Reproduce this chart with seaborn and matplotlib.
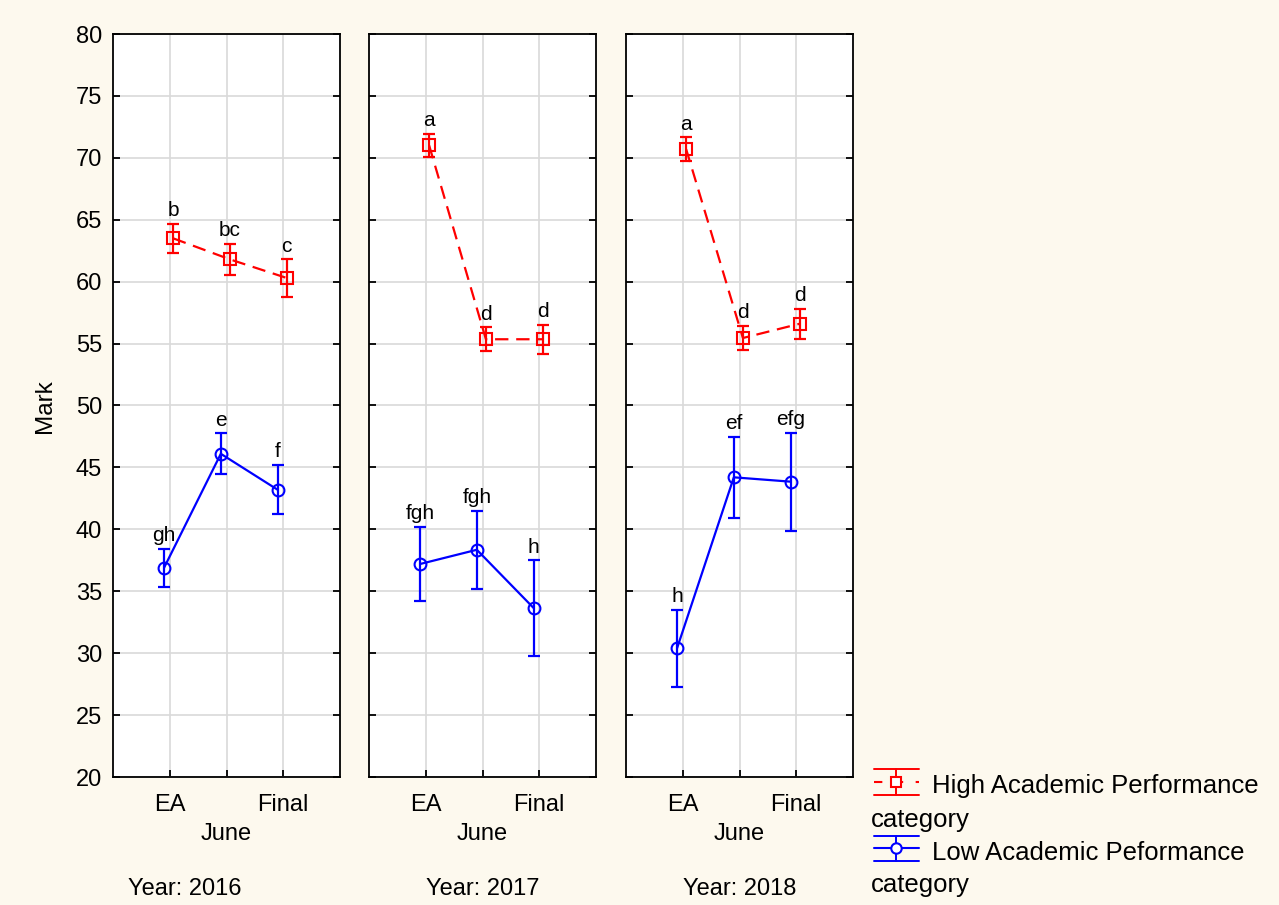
import matplotlib
matplotlib.use("Agg")
import matplotlib.pyplot as plt
import seaborn as sns
import pandas as pd
from matplotlib.lines import Line2D

YEARS = ["2016", "2017", "2018"]
STAGES = ["EA", "June", "Final"]

# means, half error bars and significance letters, one row per year
HIGH_MEAN = [[63.5, 61.8, 60.3], [71.0, 55.35, 55.35], [70.7, 55.45, 56.6]]
HIGH_ERR = [[1.15, 1.25, 1.5], [0.93, 0.95, 1.17], [0.95, 1.0, 1.2]]
HIGH_LETTERS = [["b", "bc", "c"], ["a", "d", "d"], ["a", "d", "d"]]

LOW_MEAN = [[36.9, 46.1, 43.2], [37.2, 38.35, 33.65], [30.4, 44.2, 43.85]]
LOW_ERR = [[1.55, 1.65, 2.0], [3.0, 3.15, 3.85], [3.1, 3.25, 3.95]]
LOW_LETTERS = [["gh", "e", "f"], ["fgh", "fgh", "h"], ["h", "ef", "efg"]]

HIGH_LABEL = "High Academic Performance"
LOW_LABEL = "Low Academic Peformance"

BG = "#FDF9EE"
W, H = 1279, 905

sns.set_theme(style="white")
plt.rcParams["font.family"] = ["Liberation Sans", "DejaVu Sans"]
plt.rcParams.update({"text.color": "black", "axes.labelcolor": "black",
                     "xtick.color": "black", "ytick.color": "black"})

rows = []
for i, yr in enumerate(YEARS):
    for j in range(len(STAGES)):
        rows.append(dict(year=yr, stage=j, group="High", mark=HIGH_MEAN[i][j],
                         err=HIGH_ERR[i][j], letter=HIGH_LETTERS[i][j]))
        rows.append(dict(year=yr, stage=j, group="Low", mark=LOW_MEAN[i][j],
                         err=LOW_ERR[i][j], letter=LOW_LETTERS[i][j]))
df = pd.DataFrame(rows)

STYLE = {
    "High": dict(color="red", marker="s", ms=8, offset=0.06, dashes=(6, 3.5)),
    "Low": dict(color="blue", marker="o", ms=8.5, offset=-0.10, dashes=None),
}

fig = plt.figure(figsize=(W / 100, H / 100), dpi=100, facecolor=BG)
lefts = [113, 369, 626]
year_x = [185, 483, 740]
for i, yr in enumerate(YEARS):
    ax = fig.add_axes([lefts[i] / W, 1 - 777 / H, 227 / W, 743 / H])
    ax.set_facecolor("white")
    sub = df[df.year == yr]
    for g, st in STYLE.items():
        d = sub[sub.group == g].copy()
        d["x"] = d.stage + st["offset"]
        ax.errorbar(d.x, d.mark, yerr=d.err, fmt="none", ecolor=st["color"],
                    elinewidth=1.6, capsize=4, capthick=1.6, zorder=3)
        sns.lineplot(data=d, x="x", y="mark", ax=ax, color=st["color"],
                     marker=st["marker"], markersize=st["ms"],
                     markerfacecolor="none", markeredgecolor=st["color"],
                     markeredgewidth=1.5, linewidth=1.6, zorder=4)
        if st["dashes"]:
            ax.lines[-1].set_dashes(st["dashes"])
        for _, r in d.iterrows():
            ax.annotate(r.letter, (r.x, r.mark + r.err), xytext=(0, 5.5),
                        textcoords="offset points", ha="center", va="baseline",
                        fontsize=15)

    ax.set_xlim(-1, 3)
    ax.set_ylim(20, 80)
    ax.set_yticks(range(20, 81, 5))
    ax.set_xticks([0, 1, 2])
    ax.set_xticklabels(["EA", "", "Final"], fontsize=17)
    ax.tick_params(axis="y", labelsize=17, pad=8)
    ax.tick_params(direction="in", length=5, width=1.3, color="black",
                   left=True, right=True, bottom=True, top=False,
                   labelleft=(i == 0))
    ax.tick_params(axis="x", pad=12)
    ax.grid(True, color="#D9D9D9", linewidth=1.2)
    ax.set_axisbelow(True)
    for sp in ax.spines.values():
        sp.set_color("black")
        sp.set_linewidth(1.3)
    ax.set_xlabel("")
    ax.set_ylabel("")
    ax.text(1, -(834 - 777) / 743, "June", transform=ax.get_xaxis_transform(),
            ha="center", va="center", fontsize=17)
    fig.text(year_x[i] / W, 1 - 889 / H, f"Year: {yr}",
             ha="center", va="center", fontsize=17)

fig.text(45 / W, 1 - 406 / H, "Mark", rotation=90, ha="center", va="center",
         fontsize=17.5)


# legend drawn by hand so the wrapped "category" line starts under the handle
def fx(px):
    return px / W


def fy(py):
    return 1 - py / H


def legend_entry(color, marker, dashes, ytop, ymid, ybot):
    tr = fig.transFigure
    x0, x1, xc = 874, 919, 896
    ln = Line2D([fx(x0), fx(x1)], [fy(ymid), fy(ymid)], color=color, lw=1.5,
                transform=tr)
    if dashes:
        ln.set_dashes(dashes)
    fig.add_artist(ln)
    fig.add_artist(Line2D([fx(xc), fx(xc)], [fy(ytop), fy(ybot)], color=color,
                          lw=1.4, transform=tr))
    for yy in (ytop, ybot):
        fig.add_artist(Line2D([fx(x0), fx(x1)], [fy(yy), fy(yy)], color=color,
                              lw=1.4, transform=tr))
    fig.add_artist(Line2D([fx(xc)], [fy(ymid)], marker=marker, ms=7.5,
                          mfc="white", mec=color, mew=1.5, transform=tr))


legend_entry("red", "s", (4, 6), 769, 782, 795)
legend_entry("blue", "o", None, 836, 848, 861)
fig.text(fx(932), fy(786), HIGH_LABEL, ha="left", va="center", fontsize=18.5)
fig.text(fx(871), fy(820), "category", ha="left", va="center", fontsize=18.5)
fig.text(fx(932), fy(853), LOW_LABEL, ha="left", va="center", fontsize=18.5)
fig.text(fx(871), fy(885), "category", ha="left", va="center", fontsize=18.5)

fig.savefig("out.png", dpi=100, facecolor=BG)
